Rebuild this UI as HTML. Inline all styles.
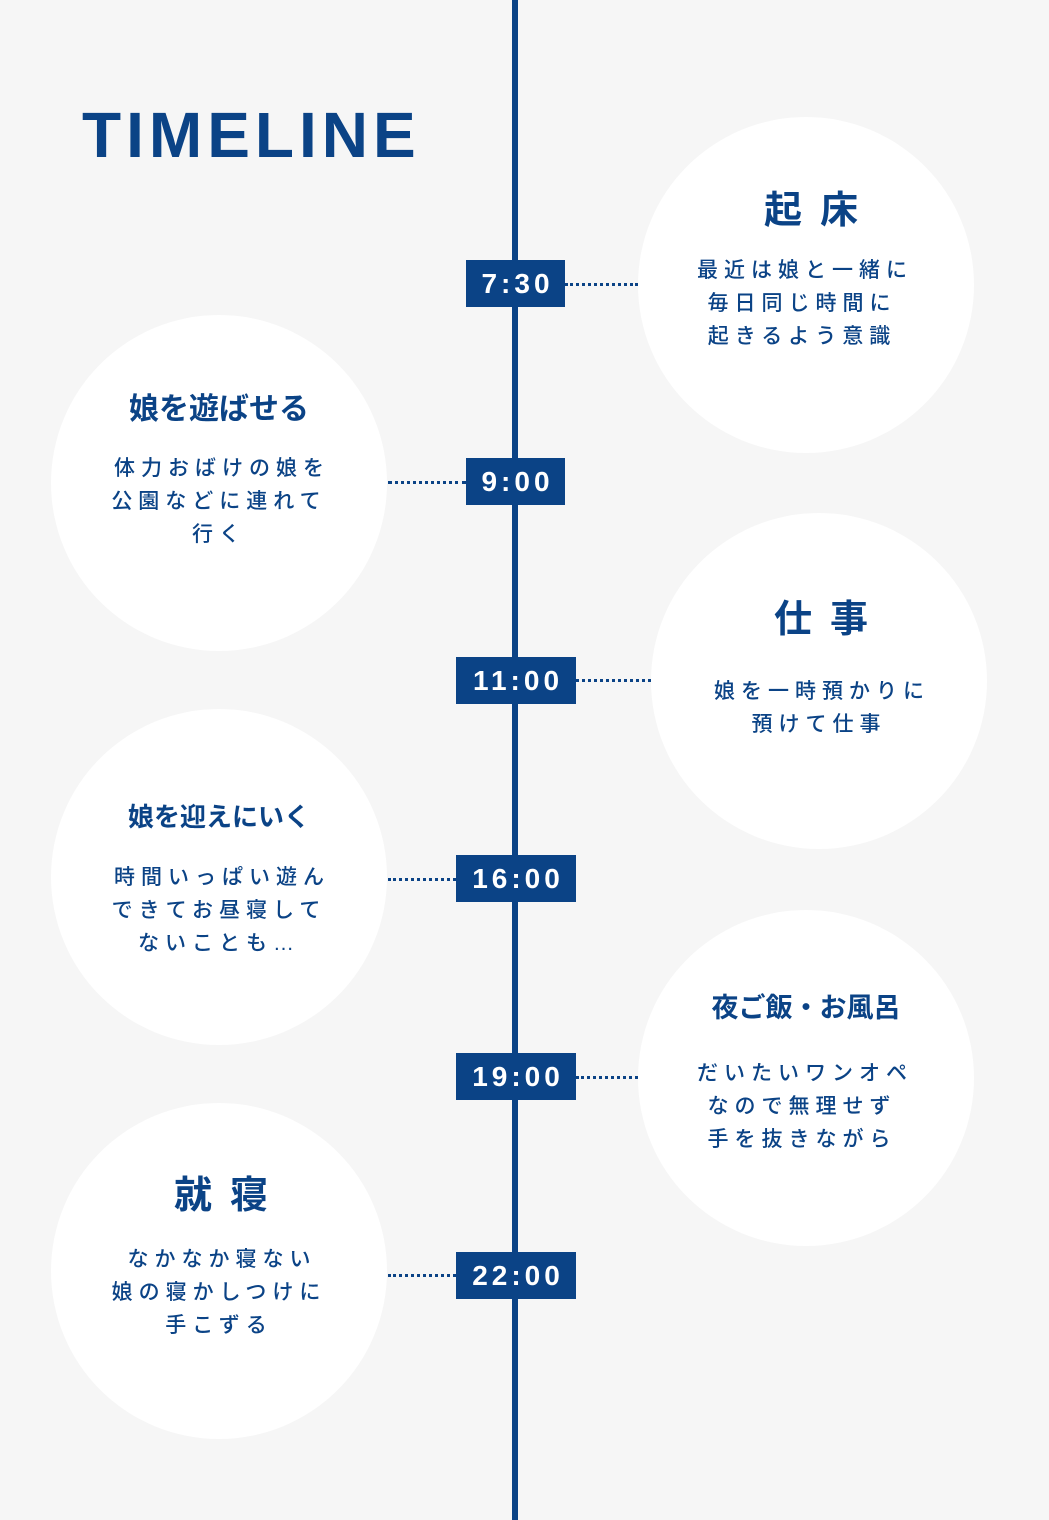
<!DOCTYPE html>
<html><head><meta charset="utf-8"><style>
body{margin:0;width:1049px;height:1520px;background:#f6f6f6;position:relative;overflow:hidden;font-family:"Liberation Sans","Noto Sans CJK JP",sans-serif;color:#0b4386}
.line{position:absolute;left:512px;top:0;width:6px;height:1520px;background:#0b4386}
.c{position:absolute;width:336px;height:336px;border-radius:50%;background:#fff}
.t{position:absolute;height:47px;background:#0b4386;color:#fff;font-weight:bold;font-size:28px;letter-spacing:4px;text-align:center;line-height:47px;text-indent:4px}
.d{position:absolute;height:0;border-top:3px dotted #0b4386}
.tx{position:absolute;width:400px;text-align:center;white-space:nowrap}
.h{font-weight:bold;font-size:30px}
.h2{font-weight:bold;font-size:38px;letter-spacing:18px;text-indent:18px}
.b{font-size:21px;font-weight:500;letter-spacing:6px;line-height:33px;text-indent:6px}
</style></head><body>
<div class="line"></div>
<div style="position:absolute;left:82px;top:97px;font-size:64px;font-weight:bold;letter-spacing:5px;line-height:76px">TIMELINE</div>

<div class="c" style="left:638px;top:117px"></div>
<div class="c" style="left:51px;top:315px"></div>
<div class="c" style="left:651px;top:513px"></div>
<div class="c" style="left:51px;top:709px"></div>
<div class="c" style="left:638px;top:910px"></div>
<div class="c" style="left:51px;top:1103px"></div>

<div class="d" style="left:565px;width:73px;top:283px"></div>
<div class="d" style="left:388px;width:78px;top:481px"></div>
<div class="d" style="left:576px;width:75px;top:679px"></div>
<div class="d" style="left:388px;width:68px;top:878px"></div>
<div class="d" style="left:576px;width:62px;top:1076px"></div>
<div class="d" style="left:388px;width:68px;top:1274px"></div>

<div class="t" style="left:466px;width:99px;top:260px">7:30</div>
<div class="t" style="left:466px;width:99px;top:458px">9:00</div>
<div class="t" style="left:456px;width:120px;top:657px">11:00</div>
<div class="t" style="left:456px;width:120px;top:855px">16:00</div>
<div class="t" style="left:456px;width:120px;top:1053px">19:00</div>
<div class="t" style="left:456px;width:120px;top:1252px">22:00</div>

<div class="tx h2" style="left:611px;top:179px">起床</div>
<div class="tx b" style="left:602px;top:254px">最近は娘と一緒に<br>毎日同じ時間に<br>起きるよう意識</div>

<div class="tx h" style="left:19px;top:384px">娘を遊ばせる</div>
<div class="tx b" style="left:19px;top:452px">体力おばけの娘を<br>公園などに連れて<br>行く</div>

<div class="tx h2" style="left:621px;top:588px">仕事</div>
<div class="tx b" style="left:619px;top:675px">娘を一時預かりに<br>預けて仕事</div>

<div class="tx h" style="left:19px;top:797px;font-size:26px">娘を迎えにいく</div>
<div class="tx b" style="left:19px;top:861px">時間いっぱい遊ん<br>できてお昼寝して<br>ないことも…</div>

<div class="tx h" style="left:606px;top:986px;font-size:27px">夜ご飯・お風呂</div>
<div class="tx b" style="left:602px;top:1057px">だいたいワンオペ<br>なので無理せず<br>手を抜きながら</div>

<div class="tx h2" style="left:21px;top:1164px">就寝</div>
<div class="tx b" style="left:19px;top:1243px">なかなか寝ない<br>娘の寝かしつけに<br>手こずる</div>
</body></html>
